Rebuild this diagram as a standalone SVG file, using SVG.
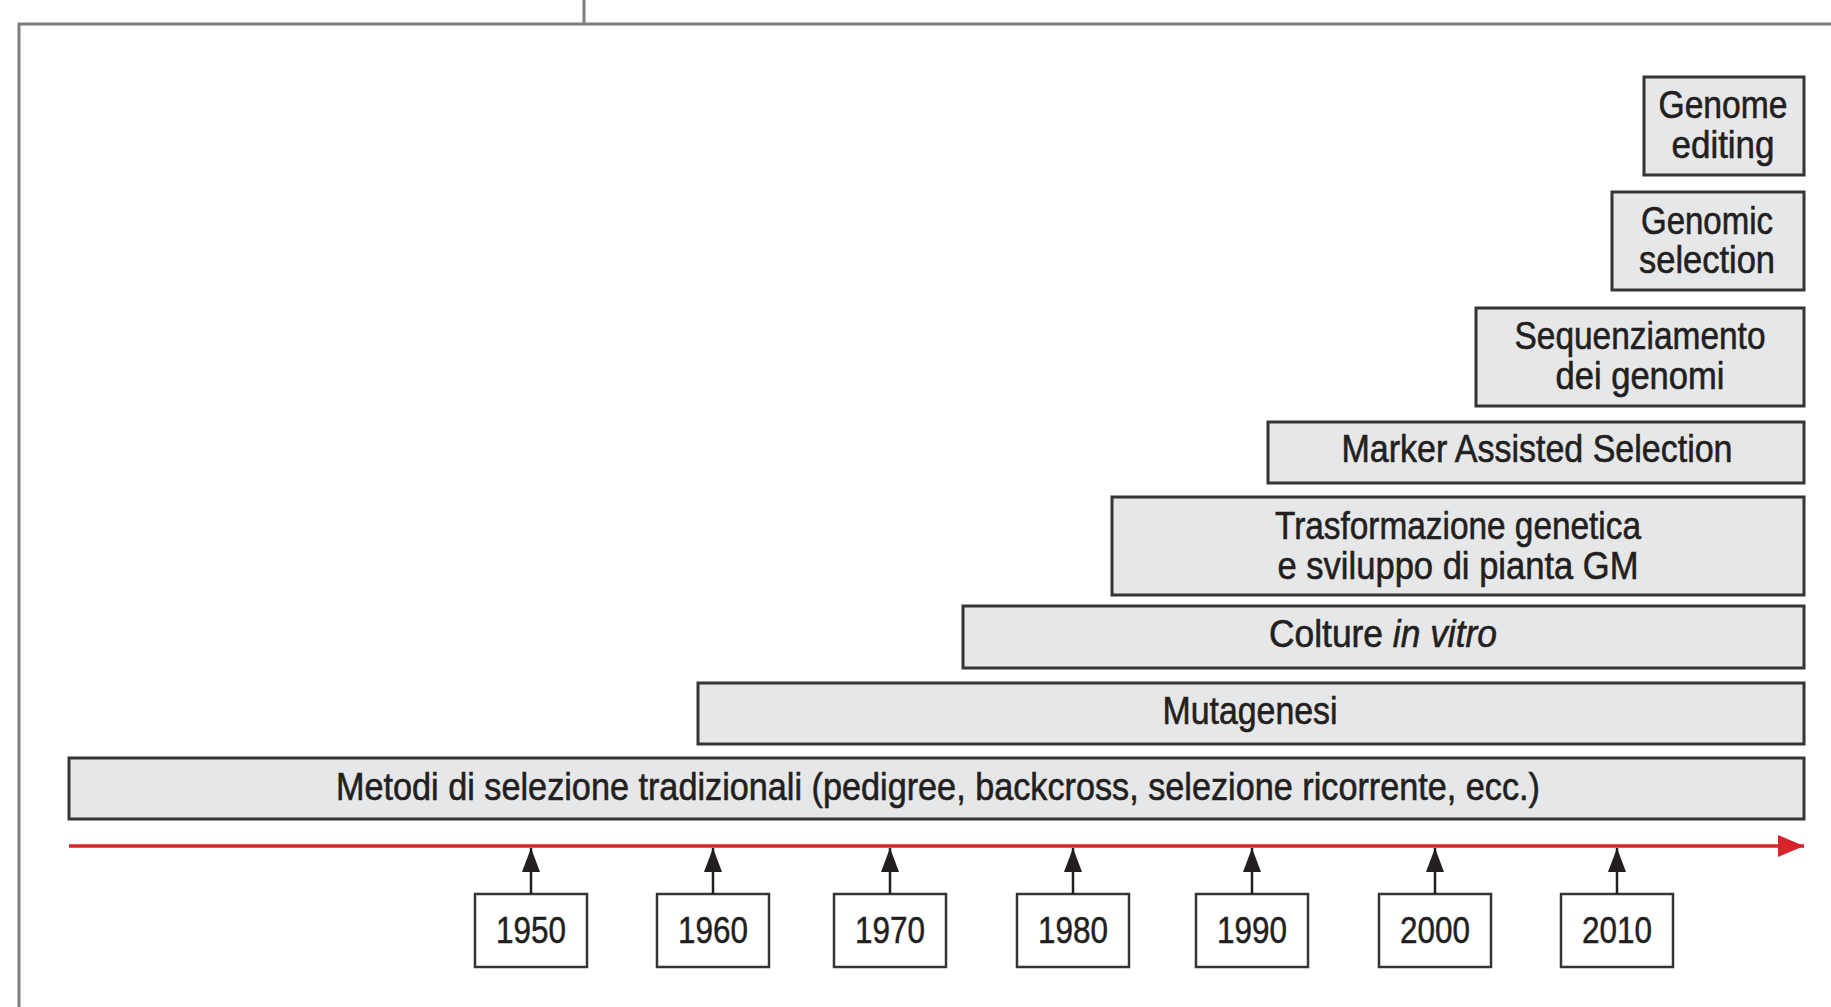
<svg xmlns="http://www.w3.org/2000/svg" width="1831" height="1007" viewBox="0 0 1831 1007">
<style>
.bar{fill:#e6e7e8;stroke:#353535;stroke-width:3}
.yr{fill:#ffffff;stroke:#353535;stroke-width:2.5}
.t{font-family:"Liberation Sans",Arial,sans-serif;font-size:38px;fill:#231f20;stroke:#231f20;stroke-width:0.6;text-anchor:middle}
.y{font-family:"Liberation Sans",Arial,sans-serif;font-size:36px;fill:#231f20;stroke:#231f20;stroke-width:0.5;text-anchor:middle}
.frame{fill:none;stroke:#7d7d7d;stroke-width:3}
.up{stroke:#231f20;stroke-width:2.5;fill:none}
</style>
<defs>
<marker id="ah" viewBox="0 0 24 18" refX="24" refY="9" markerWidth="24" markerHeight="18" markerUnits="userSpaceOnUse" orient="auto">
<path d="M0,0 L24,9 L0,18 Z" fill="#231f20"/>
</marker>
<marker id="rh" viewBox="0 0 26 22" refX="26" refY="11" markerWidth="26" markerHeight="22" markerUnits="userSpaceOnUse" orient="auto">
<path d="M0,0 L26,11 L0,22 Z" fill="#d8232a"/>
</marker>
</defs>
<rect width="1831" height="1007" fill="#ffffff"/>
<path class="frame" d="M19,1007 V24 H1831 M584,0 V24"/>

<g id="genome-editing">
<rect class="bar" x="1644" y="77" width="160" height="98"/>
<text class="t" x="1723" y="118" textLength="129" lengthAdjust="spacingAndGlyphs">Genome</text>
<text class="t" x="1723" y="158" textLength="103" lengthAdjust="spacingAndGlyphs">editing</text>
</g>
<g id="genomic-selection">
<rect class="bar" x="1612" y="192" width="192" height="98"/>
<text class="t" x="1707" y="234" textLength="132" lengthAdjust="spacingAndGlyphs">Genomic</text>
<text class="t" x="1707" y="273" textLength="136" lengthAdjust="spacingAndGlyphs">selection</text>
</g>
<g id="sequenziamento">
<rect class="bar" x="1476" y="308" width="328" height="98"/>
<text class="t" x="1640" y="349" textLength="251" lengthAdjust="spacingAndGlyphs">Sequenziamento</text>
<text class="t" x="1640" y="389" textLength="169" lengthAdjust="spacingAndGlyphs">dei genomi</text>
</g>
<g id="mas">
<rect class="bar" x="1268" y="422" width="536" height="61"/>
<text class="t" x="1537" y="462" textLength="391" lengthAdjust="spacingAndGlyphs">Marker Assisted Selection</text>
</g>
<g id="trasformazione">
<rect class="bar" x="1112" y="497" width="692" height="98"/>
<text class="t" x="1458" y="539" textLength="366" lengthAdjust="spacingAndGlyphs">Trasformazione genetica</text>
<text class="t" x="1458" y="579" textLength="361" lengthAdjust="spacingAndGlyphs">e sviluppo di pianta GM</text>
</g>
<g id="colture">
<rect class="bar" x="963" y="606" width="841" height="62"/>
<text class="t" x="1383" y="647" textLength="228" lengthAdjust="spacingAndGlyphs">Colture <tspan font-style="italic">in vitro</tspan></text>
</g>
<g id="mutagenesi">
<rect class="bar" x="698" y="683" width="1106" height="61"/>
<text class="t" x="1250" y="724" textLength="175" lengthAdjust="spacingAndGlyphs">Mutagenesi</text>
</g>
<g id="metodi">
<rect class="bar" x="69" y="758" width="1735" height="61"/>
<text class="t" x="938" y="800" textLength="1204" lengthAdjust="spacingAndGlyphs">Metodi di selezione tradizionali (pedigree, backcross, selezione ricorrente, ecc.)</text>
</g>

<g id="y1950"><rect class="yr" x="475" y="894" width="112" height="73"/><text class="y" x="531" y="943" textLength="70" lengthAdjust="spacingAndGlyphs">1950</text></g>
<g id="y1960"><rect class="yr" x="657" y="894" width="112" height="73"/><text class="y" x="713" y="943" textLength="70" lengthAdjust="spacingAndGlyphs">1960</text></g>
<g id="y1970"><rect class="yr" x="834" y="894" width="112" height="73"/><text class="y" x="890" y="943" textLength="70" lengthAdjust="spacingAndGlyphs">1970</text></g>
<g id="y1980"><rect class="yr" x="1017" y="894" width="112" height="73"/><text class="y" x="1073" y="943" textLength="70" lengthAdjust="spacingAndGlyphs">1980</text></g>
<g id="y1990"><rect class="yr" x="1196" y="894" width="112" height="73"/><text class="y" x="1252" y="943" textLength="70" lengthAdjust="spacingAndGlyphs">1990</text></g>
<g id="y2000"><rect class="yr" x="1379" y="894" width="112" height="73"/><text class="y" x="1435" y="943" textLength="70" lengthAdjust="spacingAndGlyphs">2000</text></g>
<g id="y2010"><rect class="yr" x="1561" y="894" width="112" height="73"/><text class="y" x="1617" y="943" textLength="70" lengthAdjust="spacingAndGlyphs">2010</text></g>

<g id="connectors">
<line x1="69" y1="846" x2="1804" y2="846" stroke="#d8232a" stroke-width="3.5" marker-end="url(#rh)"/>
<line class="up" x1="531" y1="894" x2="531" y2="848" marker-end="url(#ah)"/>
<line class="up" x1="713" y1="894" x2="713" y2="848" marker-end="url(#ah)"/>
<line class="up" x1="890" y1="894" x2="890" y2="848" marker-end="url(#ah)"/>
<line class="up" x1="1073" y1="894" x2="1073" y2="848" marker-end="url(#ah)"/>
<line class="up" x1="1252" y1="894" x2="1252" y2="848" marker-end="url(#ah)"/>
<line class="up" x1="1435" y1="894" x2="1435" y2="848" marker-end="url(#ah)"/>
<line class="up" x1="1617" y1="894" x2="1617" y2="848" marker-end="url(#ah)"/>
</g>
</svg>
